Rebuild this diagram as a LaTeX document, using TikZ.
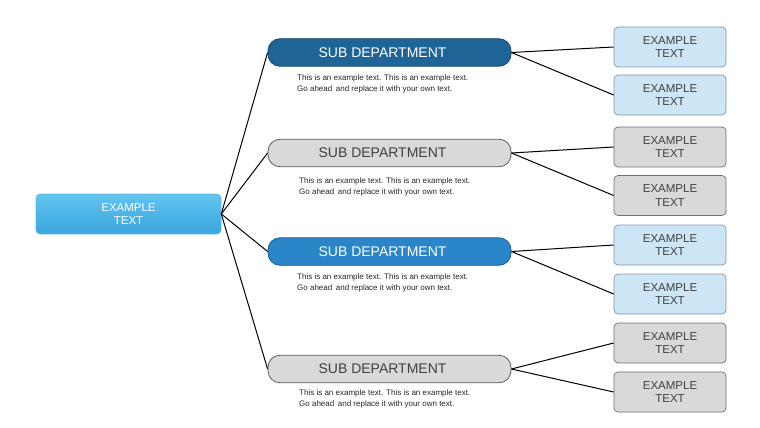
\documentclass[tikz,border=0pt]{standalone}
\usepackage{fontspec}
\setmainfont{Liberation Sans}
\definecolor{mainA}{HTML}{62C4F0}
\definecolor{mainB}{HTML}{3AA6DE}
\definecolor{darkblue}{HTML}{1F6496}
\definecolor{midblue}{HTML}{2A86C8}
\definecolor{subgray}{HTML}{D9D9D9}
\definecolor{subline}{HTML}{5A5A5A}
\definecolor{lightbox}{HTML}{CDE6F6}
\definecolor{lightline}{HTML}{8595A5}
\definecolor{graybox}{HTML}{D9D9D9}
\definecolor{grayline}{HTML}{707070}
\definecolor{txtgray}{HTML}{404040}
\tikzset{
  mainbox/.style={rounded corners=4pt, top color=mainA, bottom color=mainB, draw=mainB!80!white, line width=0.6pt,
    minimum width=185pt, minimum height=40pt, text=white, font=\fontsize{11.5}{13.5}\selectfont, align=center, inner sep=0pt},
  subbox/.style={rounded corners=12pt, minimum width=243pt, minimum height=27.5pt, inner sep=0pt, line width=0.8pt},
  subdark/.style={subbox, fill=darkblue, draw=darkblue!70!black},
  submid/.style={subbox, fill=midblue, draw=midblue!70!black},
  subgr/.style={subbox, fill=subgray, draw=subline},
  subtxt/.style={inner sep=0pt, font=\fontsize{14}{16}\selectfont},
  leafbox/.style={rounded corners=4pt, minimum width=112pt, minimum height=40pt, inner sep=0pt,
    font=\fontsize{11.5}{13.5}\selectfont, align=center, text=txtgray, line width=0.7pt},
  leafblue/.style={leafbox, fill=lightbox, draw=lightline},
  leafgray/.style={leafbox, fill=graybox, draw=grayline},
  desc/.style={anchor=north west, align=left, font=\fontsize{8}{11}\selectfont, text=black!85, inner sep=0pt},
  conn/.style={draw=black, line width=1pt}
}
\begin{document}
\begin{tikzpicture}[x=1pt,y=-1pt]
\useasboundingbox (0,0) rectangle (760,428);
\node[mainbox] (main) at (128.5,214) {EXAMPLE\\TEXT};

\node[subdark] (s1) at (389.5,52.5) {};
\node[subgr]   (s2) at (389.5,153) {};
\node[submid]  (s3) at (389.5,251.5) {};
\node[subgr]   (s4) at (389.5,369) {};
\node[subtxt, text=white]   (t1) at ([xshift=-7pt]s1.center) {SUB DEPARTMENT};
\node[subtxt, text=txtgray] (t2) at ([xshift=-7pt]s2.center) {SUB DEPARTMENT};
\node[subtxt, text=white]   (t3) at ([xshift=-7pt]s3.center) {SUB DEPARTMENT};
\node[subtxt, text=txtgray] (t4) at ([xshift=-7pt]s4.center) {SUB DEPARTMENT};

\node[desc] (d1) at (297,75) {This is an example text. This is an example text.\\Go ahead\, and replace it with your own text.};
\node[desc] (d2) at (299,178) {This is an example text. This is an example text.\\Go ahead\, and replace it with your own text.};
\node[desc] (d3) at (297,274) {This is an example text. This is an example text.\\Go ahead\, and replace it with your own text.};
\node[desc] (d4) at (299,389) {This is an example text. This is an example text.\\Go ahead\, and replace it with your own text.};

\node[leafblue] (b1) at (670,47) {EXAMPLE\\TEXT};
\node[leafblue] (b2) at (670,95) {EXAMPLE\\TEXT};
\node[leafgray] (b3) at (670,147) {EXAMPLE\\TEXT};
\node[leafgray] (b4) at (670,195.5) {EXAMPLE\\TEXT};
\node[leafblue] (b5) at (670,245) {EXAMPLE\\TEXT};
\node[leafblue] (b6) at (670,294) {EXAMPLE\\TEXT};
\node[leafgray] (b7) at (670,343) {EXAMPLE\\TEXT};
\node[leafgray] (b8) at (670,392) {EXAMPLE\\TEXT};

\foreach \s in {s1,s2,s3,s4} \draw[conn] (main.east) -- (\s.west);
\draw[conn] (s1.east) -- (b1.west);
\draw[conn] (s1.east) -- (b2.west);
\draw[conn] (s2.east) -- (b3.west);
\draw[conn] (s2.east) -- (b4.west);
\draw[conn] (s3.east) -- (b5.west);
\draw[conn] (s3.east) -- (b6.west);
\draw[conn] (s4.east) -- (b7.west);
\draw[conn] (s4.east) -- (b8.west);
\end{tikzpicture}
\end{document}
